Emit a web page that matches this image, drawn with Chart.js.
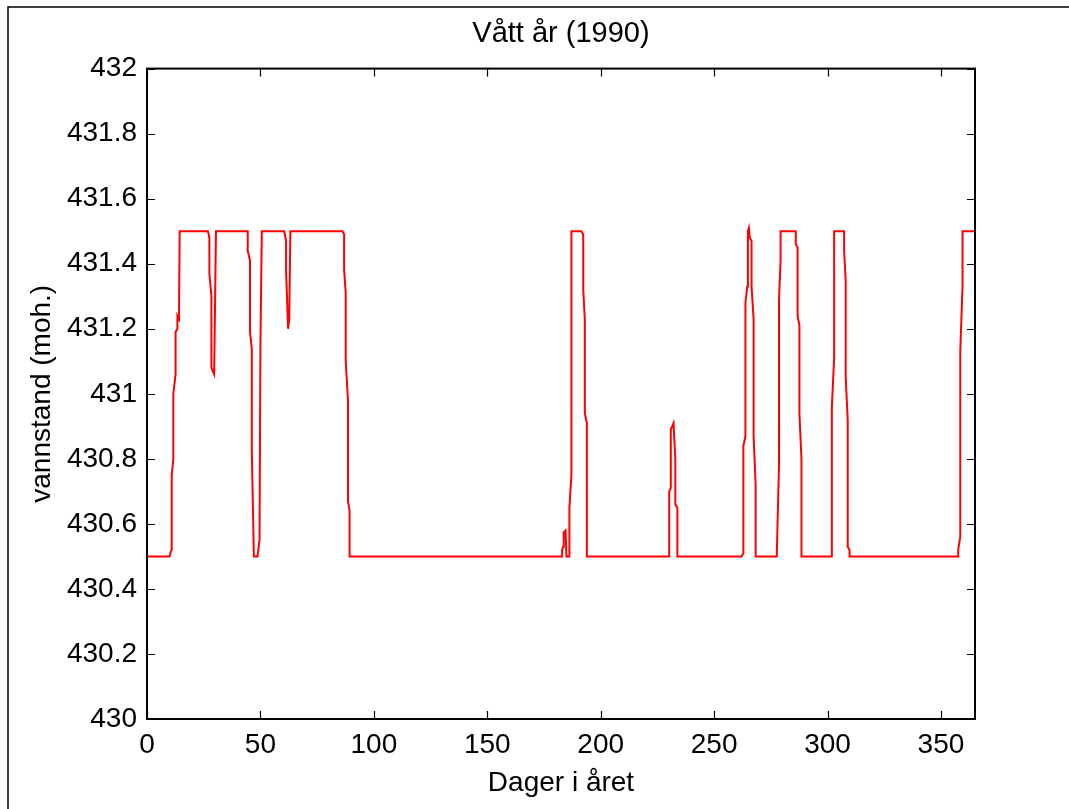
<!DOCTYPE html>
<html>
<head>
<meta charset="utf-8">
<script src="https://cdn.jsdelivr.net/npm/chart.js@4"></script>
<style>
    html, body { margin: 0; padding: 0; background: #ffffff; }
    #wrap { width: 1069px; height: 809px; }
</style>
</head>
<body>
<div id="wrap"><canvas id="levelChart" width="1069" height="809"></canvas></div>
<script>
// dag i året og vannstand (moh.)
const days = [
    0, 9.9, 10.5, 10.9, 10.9, 11.6, 11.6, 12.6, 12.6, 13.4, 13.4, 14.1, 14.4,
    26.8, 27.2, 27.5, 27.5, 28.4, 28.4, 29.6, 30.4,
    44.4, 44.4, 45.4, 45.4, 46.2, 46.2, 47.1, 48.7, 49.6, 50.0, 50.6,
    60.5, 61.3, 61.3, 62.2, 62.7, 63.2,
    86.2, 86.9, 86.9, 87.6, 87.6, 88.6, 88.6, 89.3, 89.3,
    183.0, 183.0, 183.4, 183.7, 184.5, 184.9, 186.1, 186.2, 187.1, 187.1,
    191.5, 192.3, 192.3, 193.0, 193.0, 193.9, 193.9,
    230.2, 230.2, 230.9, 230.9, 231.5, 232.1, 232.9, 232.9, 233.8, 233.8,
    262.1, 262.9, 262.9, 263.8, 263.8, 264.6, 264.9, 265.3, 265.7, 266.5, 266.5,
    267.4, 267.4, 268.3, 268.3,
    277.6, 278.6, 278.6, 279.3, 279.3,
    286.0, 286.0, 286.8, 286.8, 287.6, 287.6, 288.5, 288.5,
    301.9, 301.9, 302.9, 302.9,
    307.3, 307.3, 308.0, 308.0, 308.9, 308.9, 309.7, 309.7,
    357.6, 357.6, 358.5, 358.5, 359.5, 359.5, 365
];
const levels = [
    430.5, 430.5, 430.515, 430.52, 430.75, 430.8, 431.0, 431.06, 431.19, 431.2, 431.24, 431.23, 431.5,
    431.5, 431.49, 431.48, 431.37, 431.3, 431.08, 431.06, 431.5,
    431.5, 431.44, 431.41, 431.19, 431.14, 430.83, 430.5, 430.5, 430.55, 431.15, 431.5,
    431.5, 431.47, 431.38, 431.2, 431.23, 431.5,
    431.5, 431.49, 431.38, 431.31, 431.1, 430.98, 430.67, 430.64, 430.5,
    430.5, 430.52, 430.53, 430.574, 430.58, 430.5, 430.5, 430.65, 430.75, 431.5,
    431.5, 431.49, 431.32, 431.23, 430.94, 430.91, 430.5,
    430.5, 430.7, 430.71, 430.89, 430.9, 430.91, 430.8, 430.66, 430.65, 430.5,
    430.5, 430.51, 430.84, 430.87, 431.28, 431.33, 431.5, 431.51, 431.48, 431.47, 431.33,
    431.23, 430.87, 430.72, 430.5,
    430.5, 430.78, 431.29, 431.41, 431.5,
    431.5, 431.46, 431.45, 431.24, 431.21, 430.94, 430.8, 430.5,
    430.5, 430.96, 431.11, 431.5,
    431.5, 431.44, 431.35, 431.05, 430.92, 430.53, 430.52, 430.5,
    430.5, 430.52, 430.56, 431.13, 431.33, 431.5, 431.5
];
const xTicks = [0, 50, 100, 150, 200, 250, 300, 350];
const yMin = 430, yMax = 432, yStep = 0.2;

const FONT = "'Liberation Sans', Arial, Helvetica, sans-serif";

// ramme, akseboks og innovervendte tick-merker
const framePlugin = {
    id: "frame",
    afterDraw(chart) {
        const ctx = chart.ctx;
        const { left, right, top, bottom } = chart.chartArea;
        const xs = chart.scales.x, ys = chart.scales.y;
        ctx.save();
        ctx.strokeStyle = "#000";
        ctx.lineWidth = 1.5;
        ctx.beginPath();
        ctx.moveTo(8, 809);
        ctx.lineTo(8, 7);
        ctx.lineTo(1069, 7);
        ctx.stroke();

        ctx.lineWidth = 2;
        ctx.strokeRect(left, top, right - left, bottom - top);
        ctx.lineWidth = 1.2;
        ctx.beginPath();
        xs.ticks.forEach((t) => {
            const px = Math.round(xs.getPixelForValue(t.value)) + 0.5;
            ctx.moveTo(px, bottom);
            ctx.lineTo(px, bottom - 8);
            ctx.moveTo(px, top);
            ctx.lineTo(px, top + 8);
        });
        ys.ticks.forEach((t) => {
            const py = Math.round(ys.getPixelForValue(t.value)) + 0.5;
            ctx.moveTo(left, py);
            ctx.lineTo(left + 8, py);
            ctx.moveTo(right, py);
            ctx.lineTo(right - 8, py);
        });
        ctx.stroke();
        ctx.restore();
    },
};

const ctx = document.getElementById("levelChart").getContext("2d");
new Chart(ctx, {
    type: "scatter",
    data: {
        datasets: [
            {
                data: days.map((d, i) => ({ x: d, y: levels[i] })),
                showLine: true,
                borderColor: "#ff0000",
                borderWidth: 2,
                pointRadius: 0,
                tension: 0,
            },
        ],
    },
    options: {
        responsive: false,
        animation: false,
        layout: {
            padding: { left: 0, right: 94, top: 0, bottom: 0 },
        },
        plugins: {
            legend: { display: false },
            tooltip: { enabled: false },
            title: {
                display: true,
                text: "Vått år (1990)",
                color: "#000",
                fullSize: false,
                font: { family: FONT, size: 29, weight: "normal" },
                padding: { top: 17, bottom: 16.8 },
            },
        },
        scales: {
            x: {
                type: "linear",
                min: 0,
                max: 365,
                afterBuildTicks: (scale) => {
                    scale.ticks = xTicks.map((v) => ({ value: v }));
                },
                afterFit: (scale) => {
                    scale.height = 90;
                },
                grid: { display: false, drawTicks: false },
                border: { display: false },
                ticks: {
                    color: "#000",
                    padding: 9,
                    maxRotation: 0,
                    font: { family: FONT, size: 28 },
                },
                title: {
                    display: true,
                    text: "Dager i året",
                    color: "#000",
                    font: { family: FONT, size: 28 },
                    padding: { top: 0, bottom: 9 },
                },
            },
            y: {
                min: yMin,
                max: yMax,
                afterFit: (scale) => {
                    scale.width = 147;
                },
                grid: { display: false, drawTicks: false },
                border: { display: false },
                ticks: {
                    stepSize: yStep,
                    color: "#000",
                    padding: 10,
                    font: { family: FONT, size: 28 },
                    callback: (v) => String(+v.toFixed(1)),
                },
                title: {
                    display: true,
                    text: "vannstand (moh.)",
                    color: "#000",
                    font: { family: FONT, size: 28 },
                    padding: { top: 25, bottom: 0 },
                },
            },
        },
    },
    plugins: [framePlugin],
});
</script>
</body>
</html>
